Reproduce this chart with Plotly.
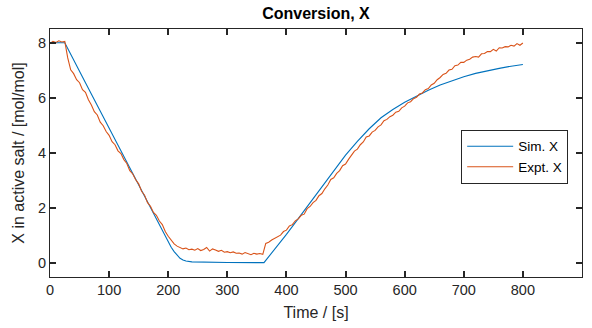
import plotly.graph_objects as go

# Simulated conversion
t_sim = [0, 25, 60, 100, 140, 180, 205, 210, 215, 220, 225, 230, 240, 260, 300, 362,
         380, 400, 420, 440, 460, 480, 500, 520, 540, 560, 580, 600, 620, 640, 660,
         680, 700, 720, 740, 760, 780, 800]
x_sim = [8.0, 8.0, 6.55, 4.89, 3.23, 1.57, 0.58, 0.42, 0.28, 0.18, 0.12, 0.08, 0.05, 0.035, 0.025, 0.02,
         0.50, 1.05, 1.62, 2.20, 2.80, 3.38, 3.92, 4.42, 4.88, 5.28, 5.58, 5.84, 6.07, 6.28, 6.47,
         6.63, 6.77, 6.89, 6.99, 7.07, 7.15, 7.21]

# Experimental conversion (sampled every 5 s)
t_expt = list(range(0, 805, 5))
x_expt = [
    7.98, 8.05, 8.01, 8.07, 8.03, 8.05, 7.45, 7.02, 6.88, 6.66,
    6.55, 6.30, 6.20, 5.93, 5.74, 5.50, 5.38, 5.12, 4.99, 4.78,
    4.64, 4.41, 4.30, 4.08, 3.98, 3.76, 3.62, 3.36, 3.24, 3.03,
    2.88, 2.61, 2.47, 2.20, 2.07, 1.84, 1.74, 1.53, 1.40, 1.15,
    0.98, 0.82, 0.70, 0.62, 0.58, 0.52, 0.55, 0.49, 0.51, 0.47,
    0.53, 0.46, 0.50, 0.57, 0.44, 0.52, 0.48, 0.43, 0.47, 0.40,
    0.42, 0.38, 0.41, 0.36, 0.37, 0.33, 0.39, 0.34, 0.31, 0.36,
    0.33, 0.35, 0.32, 0.72, 0.76, 0.84, 0.90, 0.95, 1.02, 1.15,
    1.20, 1.35, 1.40, 1.54, 1.61, 1.74, 1.78, 1.98, 2.06, 2.20,
    2.28, 2.45, 2.53, 2.70, 2.84, 3.04, 3.10, 3.26, 3.36, 3.54,
    3.60, 3.77, 3.91, 4.07, 4.14, 4.30, 4.40, 4.58, 4.62, 4.76,
    4.82, 4.95, 5.02, 5.17, 5.22, 5.32, 5.37, 5.48, 5.51, 5.64,
    5.70, 5.82, 5.86, 5.97, 6.02, 6.14, 6.18, 6.30, 6.34, 6.47,
    6.53, 6.66, 6.74, 6.85, 6.89, 7.01, 7.04, 7.17, 7.19, 7.29,
    7.29, 7.37, 7.40, 7.48, 7.50, 7.48, 7.60, 7.61, 7.68, 7.68,
    7.76, 7.70, 7.82, 7.81, 7.86, 7.85, 7.91, 7.88, 7.97, 7.91,
    7.99,
]

x_ticks = [0, 100, 200, 300, 400, 500, 600, 700, 800, 900]
y_ticks = [0, 2, 4, 6, 8]
x_range = [0, 900]
y_range = [-0.5, 8.5]

AX = "#262626"
FONT = "Liberation Sans, Arial, sans-serif"

fig = go.Figure()
fig.add_trace(go.Scatter(x=t_sim, y=x_sim, mode="lines", name="Sim. X",
                         line=dict(color="#0072BD", width=1.1)))
fig.add_trace(go.Scatter(x=t_expt, y=x_expt, mode="lines", name="Expt. X",
                         line=dict(color="#D95319", width=1.1)))

axis_common = dict(showline=True, linecolor=AX, linewidth=1, mirror="ticks",
                   ticks="inside", ticklen=6, tickwidth=1.5, tickcolor=AX,
                   showgrid=False, zeroline=False,
                   tickfont=dict(family=FONT, size=14.5, color=AX))

fig.update_layout(
    width=592, height=328,
    margin=dict(l=50, r=10, t=29, b=51),
    paper_bgcolor="white", plot_bgcolor="white",
    title=dict(text="<b>Conversion, X</b>", x=(50 + 582) / 2 / 592, xanchor="center",
               y=1 - 13 / 328, yanchor="middle", yref="container",
               font=dict(family=FONT, size=16, color="black")),
    xaxis=dict(range=x_range, tickvals=x_ticks,
               title=dict(text="Time / [s]", font=dict(family=FONT, size=16, color=AX), standoff=9),
               **axis_common),
    yaxis=dict(range=y_range, tickvals=y_ticks,
               title=dict(text="X in active salt / [mol/mol]", font=dict(family=FONT, size=16, color=AX), standoff=9),
               **axis_common),
    legend=dict(x=0.974, xanchor="right", y=0.593, yanchor="top",
                bgcolor="white", bordercolor=AX, borderwidth=1,
                font=dict(family=FONT, size=13.5, color="black"),
                tracegroupgap=0, itemwidth=46),
    showlegend=True,
)

fig.write_html("out.html")
